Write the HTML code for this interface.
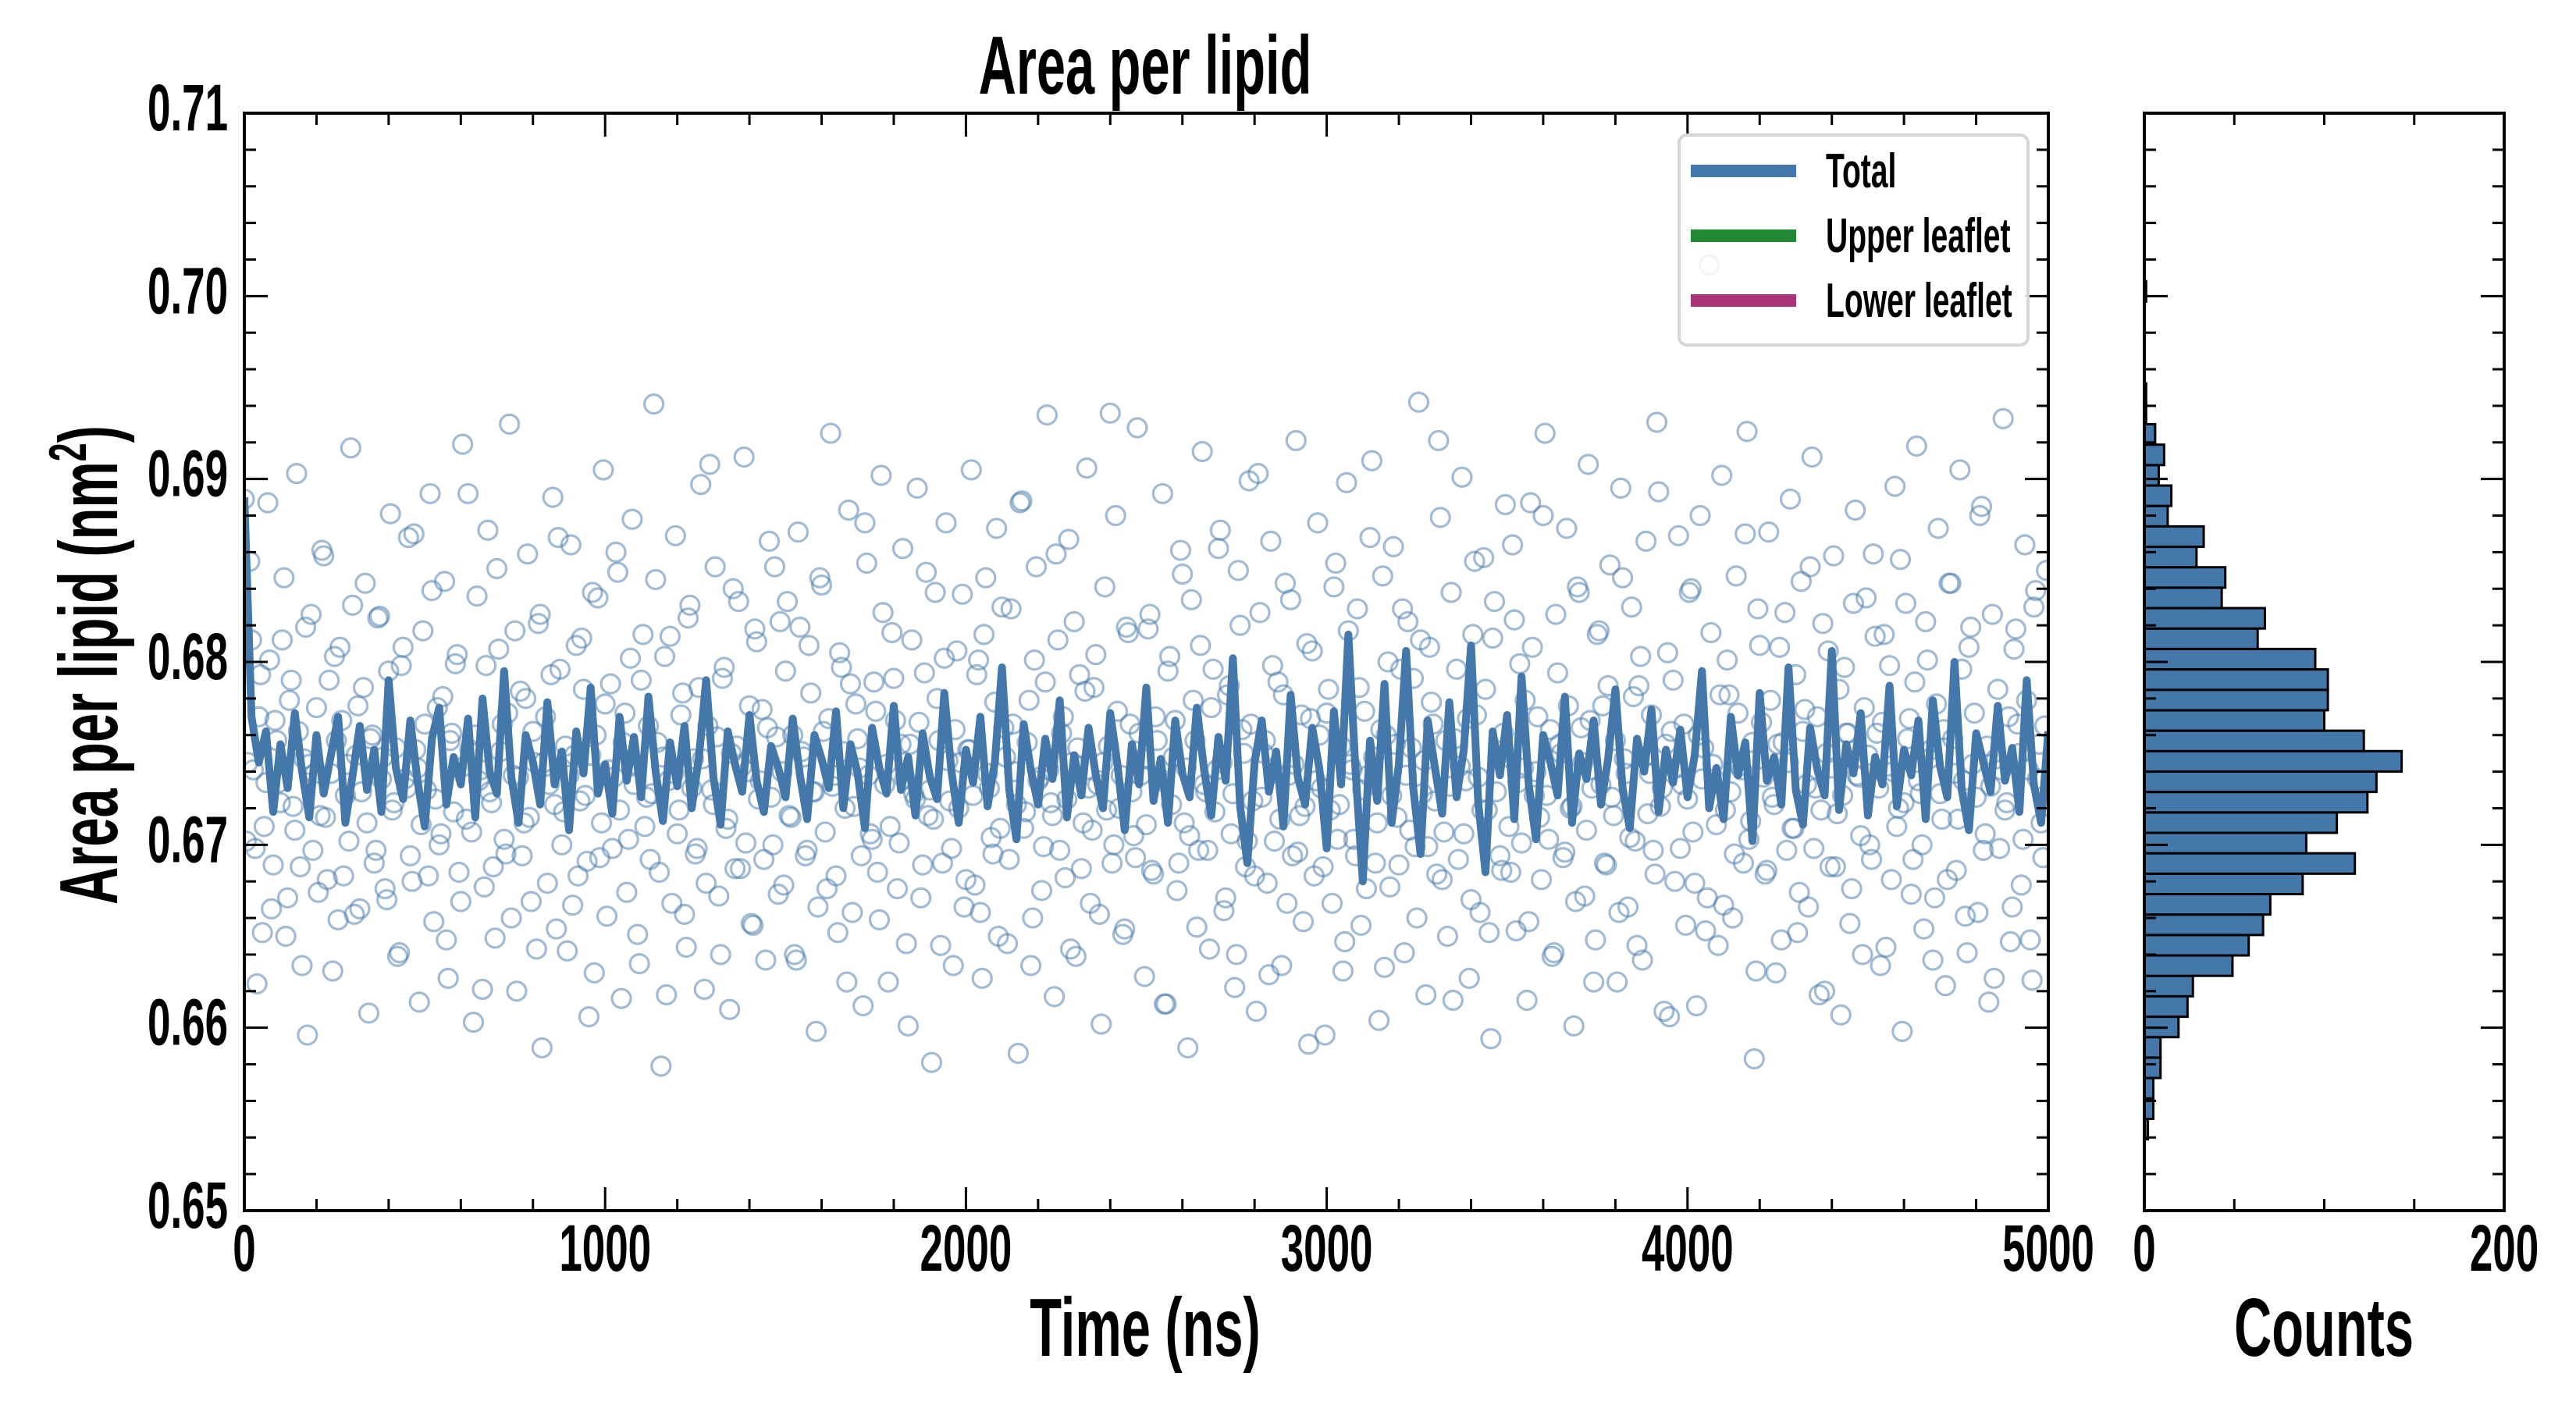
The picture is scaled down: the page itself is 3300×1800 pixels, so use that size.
<!DOCTYPE html>
<html><head><meta charset="utf-8"><title>Area per lipid</title>
<style>
html,body{margin:0;padding:0;background:#fff;}
svg{display:block;}
text{font-family:"Liberation Sans",sans-serif;font-weight:bold;fill:#000;}
</style></head>
<body>
<svg id="chart" xmlns="http://www.w3.org/2000/svg" width="3300" height="1800" viewBox="0 0 3300 1800">
<rect x="0" y="0" width="3300" height="1800" fill="#fff"/>
<g id="main"></g>
<g id="hist"></g>
<g id="labels"></g>
<g id="legend"></g>
</svg>
<script>
// ---- data (area per lipid in units of 1e-4 nm^2) ----
const scatterStep = 10; // ns between raw samples
const scatterApl = [
6889,6745,6812,6698,6770,6652,6734,6801,6689,6757,6723,6846,6671,6790,6708,6762,6634,6819,6744,6697,6775,6716,6858,6681,6739,6803,6659,6768,6727,6702,6831,6749,6665,6786,6712,6758,6690,6824,6736,6676,6795,6719,6753,6641,6808,6731,6694,6870,6742,6711,
6766,6683,6839,6725,6700,6781,6648,6757,6718,6804,6669,6743,6892,6707,6760,6735,6621,6798,6729,6688,6851,6751,6703,6772,6660,6817,6737,6694,6780,6715,6762,6643,6826,6745,6679,6793,6722,6868,6700,6754,6738,6667,6809,6724,6785,6691,6749,6630,6835,6712,
6777,6741,6698,6860,6719,6756,6674,6802,6733,6651,6790,6710,6765,6728,6845,6685,6748,6618,6814,6739,6706,6771,6662,6824,6731,6695,6786,6747,6679,6908,6722,6759,6640,6797,6714,6750,6687,6833,6743,6701,6776,6656,6811,6735,6692,6764,6726,6852,6673,6740,
6795,6716,6760,6637,6819,6748,6697,6783,6729,6666,6842,6707,6769,6732,6683,6805,6751,6625,6788,6721,6758,6694,6876,6738,6703,6773,6659,6827,6744,6710,6791,6676,6755,6736,6601,6812,6725,6767,6689,6849,6730,6714,6780,6645,6802,6746,6698,6763,6720,6837,
6681,6752,6727,6793,6663,6815,6739,6704,6778,6650,6830,6748,6692,6766,6722,6887,6709,6756,6634,6801,6735,6675,6789,6741,6716,6859,6697,6770,6725,6643,6822,6753,6687,6784,6731,6708,6804,6662,6745,6719,6936,6700,6773,6738,6654,6816,6729,6693,6761,6747,
6711,6826,6684,6757,6736,6613,6795,6722,6768,6690,6848,6742,6705,6779,6655,6809,6733,6697,6775,6718,6862,6745,6671,6787,6728,6640,6820,6750,6702,6766,6683,6903,6726,6757,6629,6798,6739,6714,6782,6668,6834,6744,6696,6771,6721,6591,6806,6735,6760,6688,
6772,6719,6841,6703,6754,6647,6817,6741,6694,6786,6730,6676,6868,6748,6712,6763,6633,6800,6727,6755,6689,6829,6738,6708,6791,6660,6812,6746,6699,6778,6724,6921,6681,6757,6732,6615,6796,6743,6706,6769,6670,6855,6737,6719,6785,6652,6813,6729,6694,6761,
6748,6685,6823,6734,6701,6779,6658,6808,6740,6715,6880,6727,6763,6641,6794,6750,6696,6776,6721,6669,6838,6745,6708,6768,6625,6815,6733,6690,6787,6726,6757,6663,6846,6739,6704,6781,6645,6803,6748,6717,6771,6684,6893,6731,6755,6606,6790,6742,6698,6766,
6725,6840,6679,6760,6736,6653,7017,6744,6711,6782,6667,6801,6729,6695,6772,6741,6870,6703,6756,6631,6809,6737,6686,6779,6722,6755,6648,6827,6745,6709,6793,6674,6762,6733,6852,6698,6770,6719,6620,6806,6742,6688,6785,6727,6761,6657,6832,6738,6705,6775,
6749,6692,6814,6731,6767,6644,6798,6740,6710,6856,6723,6758,6673,6789,6735,6700,6822,6747,6637,6777,6728,6763,6681,6843,6739,6714,6796,6661,6808,6744,6726,6880,6697,6754,6732,6627,6785,6741,6719,6770,6666,6818,6750,6703,6779,6648,6830,6736,6712,6765
];
const scatterOffset2 = 5; // ns offset of second sample set
const scatterApl2 = [
6702,6855,6741,6624,6793,6710,6887,6665,6768,6734,6812,6650,6779,6721,6903,6688,6747,6596,6826,6739,6674,6861,6715,6790,6631,6757,6808,6683,6744,6917,6662,6776,6729,6843,6608,6760,6697,6825,6748,6670,6881,6723,6639,6798,6736,6868,6680,6752,6614,6817,
6730,6892,6658,6775,6706,6844,6627,6761,6799,6685,6919,6714,6752,6603,6836,6741,6677,6872,6723,6649,6807,6766,6695,6930,6738,6620,6784,6712,6859,6669,6745,6821,6589,6770,6733,6890,6654,6796,6718,6642,6864,6749,6683,6813,6727,6606,6838,6760,6693,6905,
6661,6788,6737,6849,6616,6772,6703,6878,6744,6635,6815,6726,6692,6941,6756,6579,6803,6735,6668,6869,6719,6783,6644,6831,6747,6698,6897,6621,6765,6730,6852,6672,6791,6709,6610,6840,6754,6687,6912,6740,6657,6818,6725,6774,6637,6866,6700,6759,6822,6678,
6833,6715,6640,6871,6751,6694,6809,6729,6598,6846,6762,6676,6925,6738,6652,6797,6720,6883,6663,6777,6742,6612,6854,6706,6789,6685,6902,6733,6625,6816,6768,6701,6862,6646,6755,6728,6895,6671,6794,6716,6581,6838,6757,6690,6876,6724,6634,6806,6745,6666,
6752,6905,6678,6801,6627,6846,6731,6695,6873,6709,6764,6646,6829,6740,6586,6888,6718,6779,6660,6852,6737,6699,6935,6723,6617,6812,6761,6682,6867,6745,6639,6793,6712,6906,6668,6786,6733,6602,6841,6754,6690,6880,6720,6651,6819,6766,6705,6928,6738,6628,
6818,6686,6770,6735,6892,6613,6803,6748,6675,6861,6712,6589,6834,6757,6697,6915,6729,6643,6796,6741,6872,6664,6782,6706,6622,6850,6763,6688,6899,6724,6609,6827,6750,6679,6866,6702,6789,6634,6843,6738,6694,6921,6716,6658,6810,6769,6683,6876,6731,6596,
6785,6668,6854,6722,6631,6898,6744,6703,6829,6656,6773,6738,6910,6690,6604,6847,6760,6677,6863,6715,6796,6641,6822,6753,6699,6942,6728,6618,6808,6766,6684,6879,6707,6650,6838,6758,6692,6901,6735,6627,6815,6771,6663,6857,6719,6594,6833,6749,6686,6886,
6710,6864,6653,6799,6742,6615,6887,6727,6770,6681,6925,6703,6639,6826,6755,6693,6873,6720,6601,6841,6764,6672,6908,6731,6648,6817,6776,6689,6853,6716,6625,6895,6747,6666,6830,6702,6787,6637,6866,6739,6697,6931,6721,6609,6805,6762,6680,6869,6733,6656,
6838,6707,6612,6880,6753,6671,6816,6736,6645,6902,6719,6782,6660,6847,6743,6690,6926,6713,6583,6829,6767,6684,6871,6726,6630,6808,6756,6697,6889,6709,6652,6844,6774,6666,6912,6731,6618,6821,6750,6688,6858,6717,6607,6797,6761,6676,6883,6737,6640,6835,
6700,6859,6761,6634,6815,6743,6681,6896,6720,6598,6832,6769,6692,6918,6728,6654,6801,6752,6671,6873,6714,6623,6843,6758,6686,6905,6735,6641,6819,6772,6663,6885,6706,6614,6826,6747,6698,6933,6723,6647,6807,6766,6678,6864,6741,6626,6839,6755,6693,6850
];
const lineStep = 20; // ns between smoothed samples
const totalApl = [
6890,6770,6745,6762,6718,6755,6731,6772,6740,6715,
6760,6728,6749,6770,6712,6738,6765,6730,6752,6718,
6790,6742,6725,6768,6735,6710,6758,6775,6722,6748,
6733,6769,6715,6780,6740,6728,6795,6737,6712,6760,
6745,6722,6778,6733,6751,6708,6762,6739,6786,6728,
6744,6717,6770,6735,6759,6726,6781,6740,6713,6756,
6732,6765,6720,6748,6790,6737,6711,6762,6744,6729,
6771,6735,6718,6754,6742,6726,6769,6738,6714,6760,
6747,6731,6773,6720,6755,6739,6709,6764,6742,6728,
6776,6730,6748,6716,6761,6737,6725,6783,6740,6712,
6752,6734,6770,6721,6745,6797,6730,6703,6766,6741,
6722,6758,6736,6779,6715,6749,6727,6764,6738,6720,
6772,6744,6708,6755,6733,6786,6724,6747,6712,6768,
6739,6726,6775,6741,6716,6759,6735,6802,6721,6690,
6745,6768,6729,6751,6710,6782,6737,6722,6764,6741,
6698,6773,6733,6815,6740,6680,6757,6724,6788,6712,
6744,6806,6731,6695,6768,6742,6717,6778,6726,6752,
6809,6723,6685,6762,6738,6771,6714,6792,6733,6703,
6760,6745,6727,6781,6712,6750,6736,6768,6722,6747,
6785,6731,6709,6758,6740,6774,6718,6752,6734,6763,
6726,6749,6795,6720,6742,6714,6770,6738,6756,6702,
6783,6735,6748,6722,6797,6730,6711,6764,6741,6727,
6806,6719,6755,6739,6772,6716,6748,6733,6787,6721,
6752,6738,6768,6714,6779,6743,6726,6800,6730,6708,
6761,6745,6729,6776,6735,6753,6718,6790,6733,6712,
6762
];
const histStart = 0.6539;   // lower edge of first bin (nm^2)
const histWidth = 0.001117; // bin width (nm^2)
const histCounts = [2,5,5,9,9,19,24,27,49,58,66,70,88,117,90,107,124,129,143,122,100,102,102,95,63,67,43,45,29,33,13,15,8,11,6,1,1,0,0,0,0,1];
const yTicks = ["0.65","0.66","0.67","0.68","0.69","0.70","0.71"];
const xTicks = ["0","1000","2000","3000","4000","5000"];
const countTicks = ["0","200"];
const legendLabels = ["Total","Upper leaflet","Lower leaflet"];
const legendColors = ["#4477aa","#228833","#aa3377"];

// ---- geometry ----
const NS = "http://www.w3.org/2000/svg";
const M = {l:313, r:2624, t:145, b:1551};
const H = {l:2747, r:3208};
const yMin = 0.65, yMax = 0.71, xMin = 0, xMax = 5000, cMax = 200;
const yS = v => M.b - (v - yMin) / (yMax - yMin) * (M.b - M.t);
const xS = v => M.l + (v - xMin) / (xMax - xMin) * (M.r - M.l);
const cS = v => H.l + v / cMax * (H.r - H.l);
const SX = 0.63;

function mk(tag, attrs, parent) {
  const el = document.createElementNS(NS, tag);
  for (const k in attrs) el.setAttribute(k, attrs[k]);
  parent.appendChild(el);
  return el;
}
function txt(parent, x, y, s, size, anchor, extra) {
  const t = mk("text", {transform: `translate(${x},${y}) ${extra||""} scale(${SX},1)`, "font-size": size, "text-anchor": anchor}, parent);
  t.textContent = s;
  return t;
}

const main = document.getElementById("main");
const hist = document.getElementById("hist");
const labels = document.getElementById("labels");
const legend = document.getElementById("legend");

const defs = mk("defs", {}, main);
const cp = mk("clipPath", {id: "clipMain"}, defs);
mk("rect", {x: M.l, y: M.t, width: M.r - M.l, height: M.b - M.t}, cp);

// scatter points
const sg = mk("g", {"clip-path": "url(#clipMain)"}, main);


function drawPoint(t, v) {
  const c = mk("circle", {cx: xS(t), cy: yS(v / 10000), r: 12, fill: "none", stroke: "#4477aa", "stroke-opacity": 0.5, "stroke-width": 3.2}, sg);
  
  
}
scatterApl.forEach((v, i) => drawPoint(i * scatterStep, v));
scatterApl2.forEach((v, i) => drawPoint(i * scatterStep + scatterOffset2, v));

// total line
const lg = mk("g", {"clip-path": "url(#clipMain)"}, main);
const pts = totalApl.map((v, i) => `${xS(i * lineStep).toFixed(1)},${yS(v / 10000).toFixed(1)}`).join(" ");
const pl = mk("polyline", {points: pts, fill: "none", stroke: "#4477aa", "stroke-width": 10, "stroke-linejoin": "round"}, lg);



function yTicksFor(g, left, right) {
  for (let k = 0; k <= 30; k++) {
    const v = yMin + k * 0.002;
    const y = yS(v);
    const len = (k % 5 === 0) ? 30 : 15;
    mk("line", {x1: left, x2: left + len, y1: y, y2: y, stroke: "#000", "stroke-width": 3}, g);
    mk("line", {x1: right, x2: right - len, y1: y, y2: y, stroke: "#000", "stroke-width": 3}, g);
  }
}
const mt = mk("g", {}, main);


yTicksFor(mt, M.l, M.r);
for (let k = 0; k <= 25; k++) {
  const x = xS(k * 200);
  const len = (k % 5 === 0) ? 30 : 15;
  mk("line", {x1: x, x2: x, y1: M.b, y2: M.b - len, stroke: "#000", "stroke-width": 3}, mt);
  mk("line", {x1: x, x2: x, y1: M.t, y2: M.t + len, stroke: "#000", "stroke-width": 3}, mt);
}
const mf = mk("rect", {x: M.l, y: M.t, width: M.r - M.l, height: M.b - M.t, fill: "none", stroke: "#000", "stroke-width": 4}, main);



yTicks.forEach(s => {
  const t = txt(main, 292, yS(parseFloat(s)) + 22, s, 84, "end");
  
  
});
xTicks.forEach(s => {
  const t = txt(main, xS(parseFloat(s)), 1628, s, 84, "middle");
  
  
});

// histogram
const hb = mk("g", {}, hist);


histCounts.forEach((c, i) => {
  if (c <= 0) return;
  const y0 = yS(histStart + i * histWidth), y1 = yS(histStart + (i + 1) * histWidth);
  const b = mk("rect", {x: H.l, y: y1, width: cS(c) - H.l, height: y0 - y1, fill: "#4477aa", stroke: "#000", "stroke-width": 3}, hb);
  
  
});
const ht = mk("g", {}, hist);


yTicksFor(ht, H.l, H.r);
for (let k = 0; k <= 4; k++) {
  const x = cS(k * 50);
  const len = (k % 4 === 0) ? 30 : 15;
  mk("line", {x1: x, x2: x, y1: M.b, y2: M.b - len, stroke: "#000", "stroke-width": 3}, ht);
  mk("line", {x1: x, x2: x, y1: M.t, y2: M.t + len, stroke: "#000", "stroke-width": 3}, ht);
}
const hf = mk("rect", {x: H.l, y: M.t, width: H.r - H.l, height: M.b - M.t, fill: "none", stroke: "#000", "stroke-width": 4}, hist);


countTicks.forEach(s => {
  const t = txt(hist, cS(parseFloat(s)), 1628, s, 84, "middle");
  
  
});

const title = txt(labels, 1467, 120, "Area per lipid", 106, "middle");


const xl = txt(labels, 1467, 1737, "Time (ns)", 106, "middle");


const cl = txt(labels, 2977, 1737, "Counts", 106, "middle");


const yl = mk("text", {transform: "translate(150,852) rotate(-90) scale(0.63,1)", "font-size": 106, "text-anchor": "middle"}, labels);


yl.appendChild(document.createTextNode("Area per lipid (nm"));
const sup = mk("tspan", {dy: -40, "font-size": 68}, yl);
sup.textContent = "2";
const cls = mk("tspan", {dy: 40}, yl);
cls.textContent = ")";

const lb = mk("rect", {x: 2151, y: 173, width: 447, height: 269, rx: 10, fill: "#fff", "fill-opacity": 0.85, stroke: "#d6d6d6", "stroke-width": 4}, legend);


legendLabels.forEach((s, i) => {
  const y = 219 + i * 83;
  const g = mk("g", {}, legend);
  
  
  mk("line", {x1: 2166, x2: 2301, y1: y, y2: y, stroke: legendColors[i], "stroke-width": 16}, g);
  txt(g, 2339, y + 21, s, 62, "start");
});
</script>
</body></html>
